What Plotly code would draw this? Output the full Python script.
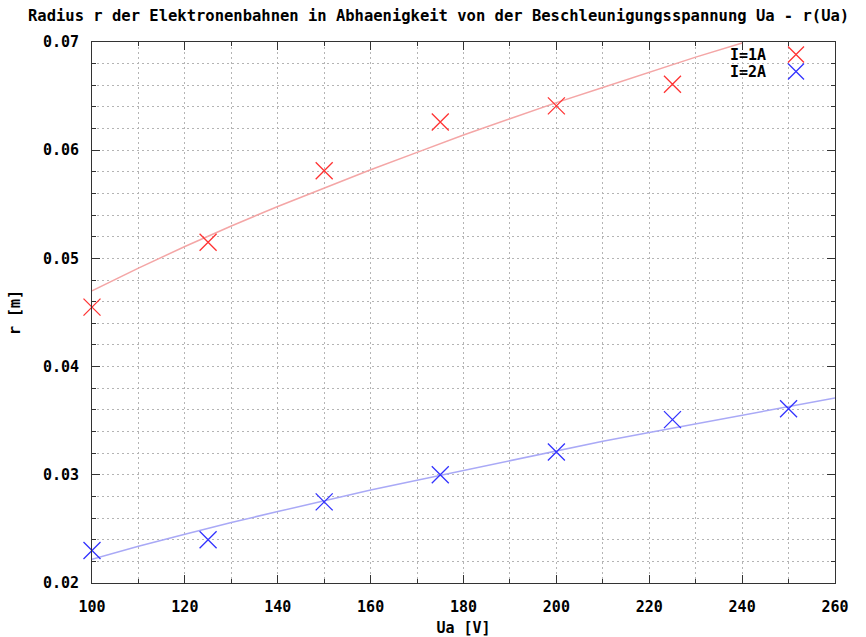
import plotly.graph_objects as go

# Measured data
ua = [100, 125, 150, 175, 200, 225]
r_1a = [0.0455, 0.0515, 0.0581, 0.0626, 0.0641, 0.0661]
ua_2a = [100, 125, 150, 175, 200, 225, 250]
r_2a = [0.0230, 0.0240, 0.0275, 0.0300, 0.0321, 0.0351, 0.0361]

# Fit curves
fit_ua_1a = [100, 110, 120, 130, 140, 150, 160, 170, 180, 190, 200, 210, 220, 230, 240]
fit_r_1a = [0.0470, 0.0491, 0.0511, 0.0530, 0.0548, 0.0565, 0.0582, 0.0598, 0.0614,
            0.0629, 0.0644, 0.0658, 0.0672, 0.0686, 0.0699]
fit_ua_2a = [100, 110, 120, 130, 140, 150, 160, 170, 180, 190, 200, 210, 220, 230, 240, 250, 260]
fit_r_2a = [0.0222, 0.0234, 0.0245, 0.0256, 0.0266, 0.0276, 0.0286, 0.0295, 0.0304,
            0.0313, 0.0322, 0.0331, 0.0339, 0.0347, 0.0355, 0.0363, 0.0371]

labels = ["I=1A", "I=2A"]
x_ticks = [100, 120, 140, 160, 180, 200, 220, 240, 260]
y_ticks = [0.02, 0.03, 0.04, 0.05, 0.06, 0.07]

RED = "rgb(255,50,50)"
BLUE = "rgb(50,50,255)"
FONT = "DejaVu Sans Mono"

fig = go.Figure()
fig.add_trace(go.Scatter(x=fit_ua_1a, y=fit_r_1a, mode="lines",
                         line=dict(color="#f4a6a6", width=1.5), showlegend=False, hoverinfo="skip"))
fig.add_trace(go.Scatter(x=fit_ua_2a, y=fit_r_2a, mode="lines",
                         line=dict(color="#a9a9f6", width=1.5), showlegend=False, hoverinfo="skip"))
fig.add_trace(go.Scatter(x=ua, y=r_1a, mode="markers", name=labels[0], showlegend=False, cliponaxis=False,
                         marker=dict(symbol="x-thin", size=17, line=dict(color=RED, width=1.3))))
fig.add_trace(go.Scatter(x=ua_2a, y=r_2a, mode="markers", name=labels[1], showlegend=False, cliponaxis=False,
                         marker=dict(symbol="x-thin", size=17, line=dict(color=BLUE, width=1.3))))
# legend samples (symbol only; text drawn as annotations, gnuplot style)
for col, lg in ((RED, "legend"), (BLUE, "legend2")):
    fig.add_trace(go.Scatter(x=[None], y=[None], mode="markers", name="", legend=lg,
                             marker=dict(symbol="x-thin", size=17, line=dict(color=col, width=1.3))))

grid = dict(showgrid=True, gridcolor="#b4b4b4", griddash="2px,3px", gridwidth=1)

fig.update_xaxes(range=[100, 260], tickvals=x_ticks, ticks="inside", ticklen=8, tickcolor="#333",
                 showline=True, linecolor="#333", linewidth=1, mirror="allticks",
                 ticklabelstandoff=10, zeroline=False,
                 minor=dict(dtick=10, ticks="inside", ticklen=4, tickcolor="#333", **grid),
                 title=dict(text="Ua [V]", standoff=12, font=dict(family=FONT, size=15, weight="bold", color="black")),
                 tickfont=dict(family=FONT, size=15, weight="bold", color="black"), **grid)
fig.update_yaxes(range=[0.02, 0.07], tickvals=y_ticks, tickformat=".2f", ticks="inside", ticklen=8,
                 tickcolor="#333", showline=True, linecolor="#333", linewidth=1, mirror="allticks",
                 ticklabelstandoff=9, zeroline=False,
                 minor=dict(dtick=0.002, ticks="inside", ticklen=4, tickcolor="#333", **grid),
                 title=dict(text="r [m]", standoff=18, font=dict(family=FONT, size=15, weight="bold", color="black")),
                 tickfont=dict(family=FONT, size=15, weight="bold", color="black"), **grid)

for i, (txt, yp) in enumerate(zip(labels, [55, 72])):
    fig.add_annotation(text=txt, xref="paper", yref="paper", x=(768 - 92) / 743, y=1 - (yp - 42) / 541,
                       xanchor="right", yanchor="middle", showarrow=False,
                       font=dict(family=FONT, size=15, weight="bold", color="black"))

leg_common = dict(xref="paper", yref="paper", x=(776 - 92) / 743, xanchor="left", yanchor="top",
                  bgcolor="rgba(0,0,0,0)", borderwidth=0, tracegroupgap=0,
                  font=dict(family=FONT, size=8, color="black"))

fig.update_layout(
    width=866, height=637,
    margin=dict(l=92, r=31, t=42, b=54, autoexpand=False),
    paper_bgcolor="white", plot_bgcolor="white",
    title=dict(text="Radius r der Elektronenbahnen in Abhaenigkeit von der Beschleunigungsspannung Ua - r(Ua)",
               xref="container", x=28 / 866, xanchor="left", yref="container", y=1 - 16 / 637, yanchor="middle",
               font=dict(family=FONT, size=15.5, weight="bold", color="black")),
    legend=dict(y=1 - (40 - 42) / 541, **leg_common),
    legend2=dict(y=1 - (57 - 42) / 541, **leg_common),
)

fig.write_html("out.html")
